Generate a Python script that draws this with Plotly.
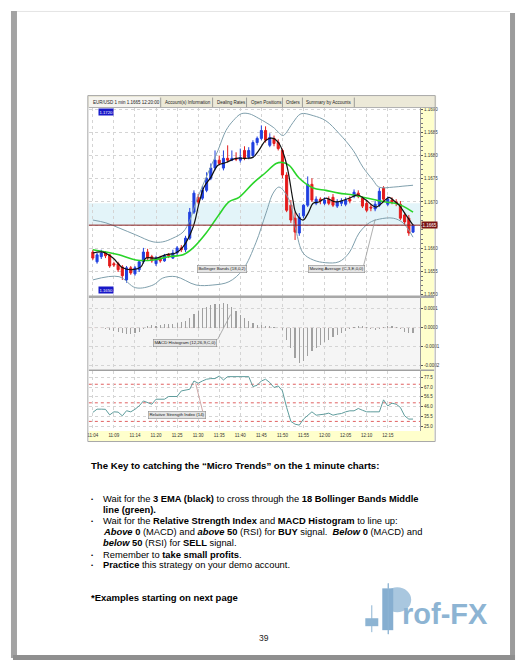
import plotly.graph_objects as go

W, H = 526, 670
FONT = "Liberation Sans, Arial, sans-serif"

# ---------------- data ----------------
time_labels = ["11:04", "11:09", "11:14", "11:20", "11:25", "11:30", "11:35", "11:40",
               "11:45", "11:50", "11:55", "12:00", "12:05", "12:10", "12:15"]
tick_pos = [0, 5, 10, 15, 20, 25, 30, 35, 40, 45, 50, 55, 60, 65, 70]

open_ = [1.16592, 1.16571, 1.16582, 1.16590, 1.16586, 1.16567, 1.16567, 1.16560, 1.16532, 1.16558,
         1.16545, 1.16554, 1.16571, 1.16592, 1.16582, 1.16567, 1.16579, 1.16573, 1.16586, 1.16579,
         1.16590, 1.16601, 1.16597, 1.16622, 1.16678, 1.16710, 1.16708, 1.16725, 1.16751, 1.16773,
         1.16790, 1.16773, 1.16794, 1.16790, 1.16794, 1.16790, 1.16811, 1.16796, 1.16800, 1.16828,
         1.16837, 1.16854, 1.16822, 1.16837, 1.16828, 1.16811, 1.16758, 1.16693, 1.16665, 1.16633,
         1.16670, 1.16693, 1.16738, 1.16697, 1.16706, 1.16697, 1.16706, 1.16710, 1.16691, 1.16697,
         1.16695, 1.16706, 1.16712, 1.16719, 1.16708, 1.16697, 1.16689, 1.16685, 1.16693, 1.16730,
         1.16695, 1.16704, 1.16700, 1.16695, 1.16672, 1.16665, 1.16635]
high = [1.16597, 1.16590, 1.16597, 1.16594, 1.16588, 1.16571, 1.16571, 1.16564, 1.16562, 1.16562,
        1.16562, 1.16575, 1.16601, 1.16599, 1.16586, 1.16584, 1.16584, 1.16588, 1.16590, 1.16597,
        1.16605, 1.16607, 1.16627, 1.16687, 1.16725, 1.16717, 1.16734, 1.16764, 1.16783, 1.16811,
        1.16800, 1.16811, 1.16822, 1.16811, 1.16807, 1.16815, 1.16820, 1.16818, 1.16833, 1.16841,
        1.16865, 1.16863, 1.16848, 1.16843, 1.16835, 1.16815, 1.16764, 1.16704, 1.16678, 1.16676,
        1.16695, 1.16755, 1.16751, 1.16712, 1.16710, 1.16710, 1.16712, 1.16717, 1.16706, 1.16708,
        1.16710, 1.16712, 1.16727, 1.16725, 1.16712, 1.16704, 1.16695, 1.16702, 1.16730, 1.16734,
        1.16712, 1.16710, 1.16706, 1.16702, 1.16678, 1.16672, 1.16652]
low = [1.16575, 1.16567, 1.16577, 1.16579, 1.16558, 1.16560, 1.16549, 1.16532, 1.16526, 1.16543,
       1.16541, 1.16549, 1.16567, 1.16575, 1.16569, 1.16562, 1.16569, 1.16571, 1.16579, 1.16577,
       1.16586, 1.16592, 1.16592, 1.16618, 1.16674, 1.16695, 1.16704, 1.16721, 1.16747, 1.16768,
       1.16779, 1.16768, 1.16785, 1.16788, 1.16788, 1.16785, 1.16790, 1.16792, 1.16796, 1.16822,
       1.16833, 1.16828, 1.16818, 1.16820, 1.16811, 1.16751, 1.16678, 1.16655, 1.16618, 1.16627,
       1.16665, 1.16689, 1.16700, 1.16693, 1.16695, 1.16693, 1.16693, 1.16689, 1.16687, 1.16691,
       1.16691, 1.16697, 1.16708, 1.16708, 1.16687, 1.16678, 1.16680, 1.16680, 1.16689, 1.16702,
       1.16691, 1.16695, 1.16691, 1.16661, 1.16650, 1.16627, 1.16633]
close = [1.16579, 1.16586, 1.16590, 1.16584, 1.16562, 1.16564, 1.16554, 1.16541, 1.16558, 1.16547,
         1.16558, 1.16571, 1.16592, 1.16579, 1.16573, 1.16579, 1.16573, 1.16584, 1.16584, 1.16590,
         1.16601, 1.16597, 1.16622, 1.16678, 1.16719, 1.16700, 1.16725, 1.16751, 1.16773, 1.16790,
         1.16783, 1.16794, 1.16790, 1.16794, 1.16792, 1.16796, 1.16794, 1.16811, 1.16828, 1.16837,
         1.16854, 1.16833, 1.16839, 1.16826, 1.16815, 1.16758, 1.16682, 1.16661, 1.16635, 1.16667,
         1.16693, 1.16738, 1.16704, 1.16706, 1.16702, 1.16704, 1.16697, 1.16693, 1.16700, 1.16702,
         1.16704, 1.16702, 1.16721, 1.16712, 1.16691, 1.16682, 1.16687, 1.16695, 1.16723, 1.16706,
         1.16706, 1.16700, 1.16697, 1.16665, 1.16657, 1.16633, 1.16650]
candle_idx = list(range(len(close)))

bb_upper_x = [0, 3.1, 6.2, 10.2, 14.3, 16.6, 19, 21.4, 23, 24.5, 27.6, 29.7, 31.6, 33.3, 35.2, 37.1,
              39.4, 42.8, 45.1, 45.8, 47.5, 49.4, 52.3, 55.3, 58.4, 61.8, 64.1, 66.5, 67.9, 71.3, 73.6, 76]
bb_upper = [1.16661, 1.16655, 1.16644, 1.16629, 1.16614, 1.16614, 1.16622, 1.16635, 1.16660, 1.16700,
            1.16768, 1.16811, 1.16854, 1.16875, 1.16890, 1.16890, 1.16880, 1.16861, 1.16843, 1.16848,
            1.16871, 1.16890, 1.16886, 1.16875, 1.16848, 1.16811, 1.16775, 1.16747, 1.16732, 1.16732,
            1.16734, 1.16736]
bb_lower_x = [0, 6.2, 10.2, 14.3, 16.6, 19.7, 24.5, 28.5, 32.3, 35.6, 38.7, 41.1, 42.8, 44.2, 46.6,
              48.2, 49.9, 52.3, 55.3, 58.4, 60.8, 63.2, 65.6, 68, 71.3, 73.6, 76]
bb_lower = [1.16532, 1.16539, 1.16515, 1.16521, 1.16536, 1.16539, 1.16521, 1.16521, 1.16528, 1.16554,
            1.16612, 1.16676, 1.16719, 1.16732, 1.16704, 1.16639, 1.16590, 1.16575, 1.16569, 1.16571,
            1.16590, 1.16633, 1.16655, 1.16663, 1.16665, 1.16655, 1.16624]
bb_mid_x = [0, 6.2, 10.2, 14.3, 18, 21.4, 23.8, 26.9, 29.9, 32.3, 34.7, 38, 41.1, 43.5, 45.1, 46.6,
            49, 52.3, 55.3, 58.4, 61.8, 64.1, 67.2, 69.5, 71.8, 73.6, 76]
bb_mid = [1.16597, 1.16586, 1.16575, 1.16575, 1.16582, 1.16586, 1.16601, 1.16633, 1.16672, 1.16700,
          1.16710, 1.16740, 1.16764, 1.16783, 1.16785, 1.16779, 1.16751, 1.16730, 1.16725, 1.16719,
          1.16715, 1.16710, 1.16704, 1.16700, 1.16697, 1.16691, 1.16678]
ema_x = [0, 2.4, 4.8, 7.1, 9.5, 11.4, 12.6, 15, 17.3, 19.7, 21.4, 23.8, 25.2, 26.4, 28, 29.7, 31.6,
         34, 36.3, 38, 39.4, 41.1, 42.8, 44.2, 45.4, 46.3, 47.5, 48.2, 49.9, 51.1, 52.3, 53.7, 55.3,
         57.7, 60.8, 62.9, 64.8, 67.2, 68.9, 70.3, 71.3, 72.7, 74.3, 76]
ema3 = [1.16590, 1.16592, 1.16579, 1.16558, 1.16554, 1.16560, 1.16579, 1.16579, 1.16586, 1.16590,
        1.16603, 1.16646, 1.16697, 1.16732, 1.16753, 1.16779, 1.16785, 1.16794, 1.16794, 1.16796,
        1.16811, 1.16833, 1.16837, 1.16826, 1.16800, 1.16768, 1.16704, 1.16676, 1.16661, 1.16676,
        1.16697, 1.16700, 1.16708, 1.16700, 1.16708, 1.16715, 1.16704, 1.16689, 1.16700, 1.16710,
        1.16704, 1.16693, 1.16672, 1.16650]

macd_hist = [-0.000003, -0.000005, -0.000003, -0.000006, -0.000013, -0.000017, -0.000022, -0.000031, -0.000034, -0.000034,
             -0.000031, -0.000022, -0.000010, 0.000007, 0.000012, 0.000010, 0.000015, 0.000017, 0.000017, 0.000019,
             0.000022, 0.000027, 0.000034, 0.000050, 0.000072, 0.000089, 0.000103, 0.000111, 0.000118, 0.000123,
             0.000126, 0.000132, 0.000123, 0.000106, 0.000085, 0.000068, 0.000051, 0.000034, 0.000024, 0.000015,
             0.000014, 0.000010, 0.000009, 0.000003, -0.000002, -0.000014, -0.000065, -0.000108, -0.000159, -0.000188,
             -0.000176, -0.000150, -0.000125, -0.000108, -0.000091, -0.000077, -0.000065, -0.000051, -0.000039, -0.000027,
             -0.000017, -0.000007, 0.000003, 0.000010, 0.000007, 0.000001, -0.000009, -0.000014, -0.000010, 0.000001,
             0.000010, 0.000009, 0.000003, -0.000007, -0.000021, -0.000031, -0.000031]

rsi = [39.7, 43.2, 43.2, 43.0, 37.0, 40.3, 40.0, 36.0, 41.5, 40.3,
       43.0, 46.7, 52.0, 50.3, 48.5, 53.9, 53.9, 53.9, 56.8, 56.8,
       56.8, 62.8, 63.5, 64.6, 73.5, 71.1, 73.5, 75.4, 76.1, 76.1,
       78.9, 74.6, 78.2, 78.2, 78.2, 78.2, 78.2, 78.2, 67.5, 68.9,
       73.5, 75.4, 71.8, 66.5, 68.2, 62.8, 45.0, 30.0, 27.0, 26.0,
       32.5, 36.0, 40.3, 36.7, 37.0, 37.8, 38.9, 36.7, 37.8, 38.5,
       40.3, 41.4, 41.4, 43.9, 42.0, 40.3, 40.3, 40.3, 40.3, 53.2,
       46.7, 49.6, 48.5, 45.0, 36.0, 32.5, 32.5]

price_ticks = [1.1650, 1.1655, 1.1660, 1.1665, 1.1670, 1.1675, 1.1680, 1.1685, 1.1690]
macd_ticks = [0.0001, 0.0, -0.0001, -0.0002]
macd_tick_text = ["0.0001", "0.0000", "-0.0001", "-0.0002"]
rsi_ticks = [25.0, 35.5, 46.0, 56.5, 67.0, 77.5]
rsi_levels = [70, 50, 30]
current_price = 1.1665


def px(x):
    return x / W


def py(y):
    return 1 - y / H


fig = go.Figure()

fig.add_trace(go.Candlestick(
    x=candle_idx, open=open_, high=high, low=low, close=close,
    increasing=dict(line=dict(color="#2040e0", width=1), fillcolor="#2040e0"),
    decreasing=dict(line=dict(color="#e41c1c", width=1), fillcolor="#e41c1c"),
    whiskerwidth=0, xaxis="x", yaxis="y", hoverinfo="skip"))
fig.add_trace(go.Scatter(x=bb_upper_x, y=bb_upper, mode="lines", line=dict(color="#7f9fac", width=1, shape="spline"),
                         xaxis="x", yaxis="y"))
fig.add_trace(go.Scatter(x=bb_lower_x, y=bb_lower, mode="lines", line=dict(color="#7f9fac", width=1, shape="spline"),
                         xaxis="x", yaxis="y"))
fig.add_trace(go.Scatter(x=bb_mid_x, y=bb_mid, mode="lines", line=dict(color="#2ad42a", width=1.6, shape="spline"),
                         xaxis="x", yaxis="y"))
fig.add_trace(go.Scatter(x=ema_x, y=ema3, mode="lines", line=dict(color="#111111", width=1.2, shape="spline"),
                         xaxis="x", yaxis="y"))

fig.add_trace(go.Bar(x=candle_idx, y=macd_hist, width=0.28, marker=dict(color="#a0a0a0", line=dict(width=0)),
                     xaxis="x2", yaxis="y2"))

fig.add_trace(go.Scatter(x=candle_idx, y=rsi, mode="lines", line=dict(color="#5e9c9c", width=1),
                         xaxis="x3", yaxis="y3"))

xdom = [px(88), px(420)]
xcommon = dict(domain=xdom, range=[-0.95, 77.7], tickvals=tick_pos, showgrid=True, gridcolor="#d4d4d4",
               griddash="dot", gridwidth=1, zeroline=False, showline=False, ticks="", fixedrange=True)
ycommon = dict(side="right", showgrid=True, gridcolor="#d4d4d4", griddash="dot", zeroline=False,
               ticks="outside", ticklen=2, tickcolor="#555", showline=True, linecolor="#9a9a9a", linewidth=1,
               tickfont=dict(family=FONT, size=4.5, color="#333"), fixedrange=True)

fig.update_layout(
    width=W, height=H, margin=dict(l=0, r=0, t=0, b=0),
    paper_bgcolor="white", plot_bgcolor="rgba(0,0,0,0)", showlegend=False, bargap=0,
    hovermode=False,
    xaxis=dict(**xcommon, anchor="y", showticklabels=False, rangeslider=dict(visible=False)),
    xaxis2=dict(**xcommon, anchor="y2", matches="x", showticklabels=False),
    xaxis3=dict(**xcommon, anchor="y3", matches="x", showticklabels=True, ticktext=time_labels,
                tickfont=dict(family=FONT, size=4.5, color="#333")),
    yaxis=dict(**ycommon, anchor="x", domain=[py(296), py(107)], range=[1.16498, 1.169035],
               tickvals=price_ticks, ticktext=["%.4f" % v for v in price_ticks],
               minor=dict(ticks="outside", ticklen=1.5, dtick=0.0001, tickcolor="#777", showgrid=False)),
    yaxis2=dict(**ycommon, anchor="x2", domain=[py(370), py(298)], range=[-0.000221, 0.000158],
                tickvals=macd_ticks, ticktext=macd_tick_text),
    yaxis3=dict(**ycommon, anchor="x3", domain=[py(432), py(372)], range=[19.6, 83.9],
                tickvals=rsi_ticks, ticktext=["%.1f" % v for v in rsi_ticks]),
)

shapes = []


def rect(x0, y0, x1, y1, fill, line=None, layer="below", lw=0):
    shapes.append(dict(type="rect", xref="paper", yref="paper", x0=px(x0), x1=px(x1), y0=py(y1), y1=py(y0),
                       fillcolor=fill, line=dict(color=line or fill, width=lw), layer=layer))


def seg(x0, y0, x1, y1, color, width=1, dash="solid", layer="above"):
    shapes.append(dict(type="line", xref="paper", yref="paper", x0=px(x0), x1=px(x1), y0=py(y0), y1=py(y1),
                       line=dict(color=color, width=width, dash=dash), layer=layer))


# page and shadow
rect(10, 10, 16, 660, "#a3a3a3")
rect(510, 12, 515, 662, "#9c9c9c")
rect(12, 657, 515, 662, "#8f8f8f")
seg(16, 10.5, 510, 10.5, "#e4e4e4", 1, layer="below")

# chart screenshot background pieces
rect(87, 95, 436, 107, "#ece9d8")
rect(88, 96.5, 159, 107, "#f5f4ef")
rect(88, 298, 420, 370, "#f5f5f5")
rect(420, 107, 434, 442, "#ffffcc")
rect(88, 432, 434, 442, "#ffffcc")

# shaded band and current-price line (price panel)
shapes.append(dict(type="rect", xref="x domain", yref="y", x0=0, x1=1, y0=current_price, y1=1.16697,
                   fillcolor="#e3f4f9", line=dict(width=0), layer="below"))
shapes.append(dict(type="line", xref="x domain", yref="y", x0=0, x1=1, y0=current_price, y1=current_price,
                   line=dict(color="#8a2020", width=1), layer="above"))
# MACD zero line, RSI levels
shapes.append(dict(type="line", xref="x2 domain", yref="y2", x0=0, x1=1, y0=0, y1=0,
                   line=dict(color="#e07070", width=1, dash="dot"), layer="below"))
for lv in rsi_levels:
    shapes.append(dict(type="line", xref="x3 domain", yref="y3", x0=0, x1=1, y0=lv, y1=lv,
                       line=dict(color="#e06060", width=1, dash="dot"), layer="below"))

# panel separators and frame
seg(88, 297, 434, 297, "#a8a8a8", 2.5)
seg(88, 371, 434, 371, "#a0a0a0", 1.5)
seg(88, 107, 434, 107, "#b0b0b0", 1)
for sx in [160, 212, 246, 282, 302, 354]:
    seg(sx, 97, sx, 106.5, "#8a8a8a", 0.8)
shapes.append(dict(type="rect", xref="paper", yref="paper", x0=px(87), x1=px(435), y0=py(442.5), y1=py(95),
                   line=dict(color="#a8a8a8", width=1), layer="above"))

# leader lines of indicator labels
seg(363, 267, 375, 219, "#9a9a9a", 0.8)
seg(217, 340, 230, 315, "#9a9a9a", 0.8)
seg(202, 412, 195, 384, "#c09090", 0.8)

# logo
logo_c = "#8db4d3"
seg(371.5, 607, 371.5, 634, logo_c, 1)
rect(365, 620, 378, 628, logo_c)
seg(388, 585, 388, 636, logo_c, 1)
shapes.append(dict(type="circle", xref="paper", yref="paper", x0=px(383), x1=px(411), y0=py(614), y1=py(589),
                   fillcolor="#a9c7df", line=dict(width=0), layer="below"))
rect(382, 590, 393, 632, "#86aed0")
seg(388, 585, 388, 590, logo_c, 1)
seg(388, 632, 388, 636, logo_c, 1)

fig.update_layout(shapes=shapes)

ann = []


def text(x, y, s, size=9.35, anchor="left", color="#000", bold=False, **kw):
    ann.append(dict(x=px(x), y=py(y), xref="paper", yref="paper", text=("<b>%s</b>" % s) if bold else s,
                    showarrow=False, xanchor=anchor, yanchor="middle", align="left",
                    font=dict(family=FONT, size=size, color=color), **kw))


# tabs
tab_font = 4.5
text(90, 101.5, "EUR/USD 1 min 1.1665 12:20:00", tab_font, color="#222")
text(162, 101.5, "Account(s) Information", tab_font, color="#222")
text(214, 101.5, "Dealing Rates", tab_font, color="#222")
text(248, 101.5, "Open Positions", tab_font, color="#222")
text(284, 101.5, "Orders", tab_font, color="#222")
text(304, 101.5, "Summary by Accounts", tab_font, color="#222")

# value markers
text(97, 112, "1.1720", 4.2, color="white", bgcolor="#1818c8", borderpad=0.5)
text(97, 290.5, "1.1650", 4.2, color="white", bgcolor="#1818c8", borderpad=0.5)
ann.append(dict(x=px(420.5), y=current_price, xref="paper", yref="y", text="1.1665", showarrow=False,
                xanchor="left", yanchor="middle", bgcolor="#7a1414", borderpad=0.6,
                font=dict(family=FONT, size=4.5, color="white")))

# indicator labels
lab = dict(bgcolor="#e4e4e4", bordercolor="#8a8a8a", borderwidth=0.6, borderpad=0.8)
text(221, 269.5, "Bollinger Bands (18,0,2)", 4.4, anchor="center", color="#222", **lab)
text(336, 269.5, "Moving Average (C,3,E,0,0)", 4.4, anchor="center", color="#222", **lab)
text(184, 343.5, "MACD Histogram (12,26,9,C,0)", 4.4, anchor="center", color="#222", **lab)
text(176, 415.5, "Relative Strength Index (14)", 4.4, anchor="center", color="#222", **lab)

# page text
text(88, 466.7, "The Key to catching the \u201cMicro Trends\u201d on the 1 minute charts:", 9.6, bold=True)
bullets_y = [500.7, 522.7, 556.0, 566.7]
for by in bullets_y:
    text(88.5, by, "\u2022", 6)
text(100, 500.7, "Wait for the <b>3 EMA (black)</b> to cross through the <b>18 Bollinger Bands Middle</b>")
text(100, 511.7, "<b>line (green).</b>")
text(100, 522.7, "Wait for the <b>Relative Strength Index</b> and <b>MACD Histogram</b> to line up:")
text(100, 533.3, "<b><i>Above</i> 0</b> (MACD) and <b><i>above</i> 50</b> (RSI) for <b>BUY</b> signal.  "
                 "<b><i>Below</i> 0</b> (MACD) and")
text(100, 544.7, "<b><i>below</i> 50</b> (RSI) for <b>SELL</b> signal.")
text(100, 556.0, "Remember to <b>take small profits</b>.")
text(100, 566.7, "<b>Practice</b> this strategy on your demo account.")
text(88, 599.5, "*Examples starting on next page", 9.5, bold=True)
text(263, 640, "39", 8.5, anchor="center", color="#222")

# logo text
text(400, 616, "<b>rof-FX</b>", 29, color="#8db4d3")

fig.update_layout(annotations=ann)

fig.write_html("out.html", config={"displayModeBar": False, "staticPlot": True},
               post_script="document.body.style.margin='0';document.body.style.overflow='hidden';")
